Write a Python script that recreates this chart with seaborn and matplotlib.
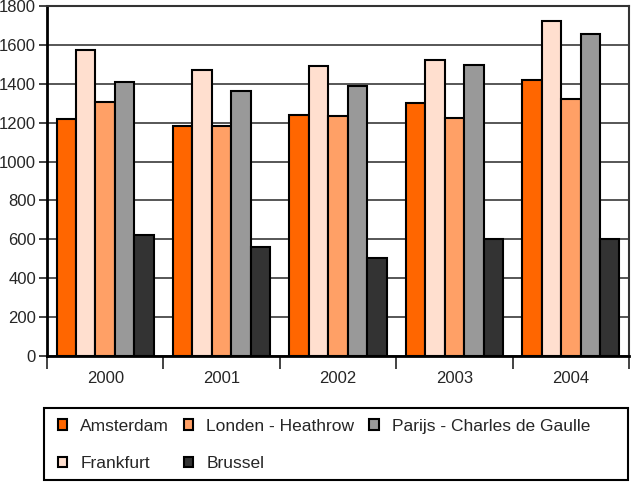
import matplotlib
matplotlib.use("Agg")
import matplotlib.pyplot as plt
import seaborn as sns
import pandas as pd
from matplotlib.patches import Patch, Rectangle

years = ["2000", "2001", "2002", "2003", "2004"]
series = ["Amsterdam", "Frankfurt", "Londen - Heathrow", "Parijs - Charles de Gaulle", "Brussel"]
amsterdam = [1220, 1183, 1238, 1303, 1420]
frankfurt = [1573, 1473, 1493, 1524, 1722]
londen = [1305, 1181, 1233, 1222, 1324]
parijs = [1411, 1361, 1387, 1497, 1655]
brussel = [624, 561, 506, 602, 602]
colors = ["#FF6600", "#FFDFCF", "#FFA066", "#999999", "#333333"]
yticks = [0, 200, 400, 600, 800, 1000, 1200, 1400, 1600, 1800]

values = [amsterdam, frankfurt, londen, parijs, brussel]
rows = []
for s, vals in zip(series, values):
    for y, v in zip(years, vals):
        rows.append({"Jaar": y, "Luchthaven": s, "Waarde": v})
df = pd.DataFrame(rows)

sns.set_style("white")
plt.rcParams["font.family"] = ["Liberation Sans", "DejaVu Sans"]

fig = plt.figure(figsize=(6.31, 4.82), dpi=100)
ax = fig.add_axes([47/631, 1-356/482, (629-47)/631, (356-6)/482])

sns.barplot(data=df, x="Jaar", y="Waarde", hue="Luchthaven", order=years,
            hue_order=series, palette=colors, saturation=1, width=0.835, gap=0,
            edgecolor="black", linewidth=1.5, errorbar=None, ax=ax, zorder=3,
            legend=False)

ax.set_ylim(0, 1800)
ax.set_xlim(-0.5, 4.5)
ax.set_yticks(yticks)
ax.set_yticklabels([str(t) for t in yticks], fontsize=12)
ax.set_xlabel("")
ax.set_ylabel("")
ax.yaxis.grid(True, color="#3a3a3a", linewidth=1.2, zorder=0)
ax.set_axisbelow(True)

ax.tick_params(axis="y", which="major", length=6, width=1.2, direction="out",
               left=True, color="#222222", pad=2)
ax.set_xticks(range(len(years)))
ax.set_xticklabels(years, fontsize=12)
ax.tick_params(axis="x", which="major", length=0, pad=11)
ax.set_xticks([-0.5, 0.5, 1.5, 2.5, 3.5, 4.5], minor=True)
ax.tick_params(axis="x", which="minor", length=9, width=1.2, direction="out",
               bottom=True, color="#222222")

for side in ["left", "bottom"]:
    ax.spines[side].set_color("black")
    ax.spines[side].set_linewidth(2)
for side in ["top", "right"]:
    ax.spines[side].set_color("#333333")
    ax.spines[side].set_linewidth(1.5)

# legend frame drawn separately (full width box)
fig.patches.append(Rectangle((44/631, 2/482), (628-44)/631, (480-408)/482,
                             transform=fig.transFigure, fill=False,
                             edgecolor="black", linewidth=1.5))

leg_order = ["Amsterdam", "Frankfurt", "Londen - Heathrow", "Brussel", "Parijs - Charles de Gaulle"]
handles = [Patch(facecolor=colors[series.index(s)], edgecolor="black", linewidth=1.5, label=s)
           for s in leg_order]
leg = fig.legend(handles=handles, ncol=3, loc="upper left",
                 bbox_to_anchor=(49/631, 1-410/482),
                 frameon=False, fontsize=12.5,
                 handlelength=0.55, handleheight=0.55, handletextpad=0.75,
                 columnspacing=0.85, labelspacing=1.3, borderpad=0.5,
                 borderaxespad=0)

fig.savefig("out.png", dpi=100)
